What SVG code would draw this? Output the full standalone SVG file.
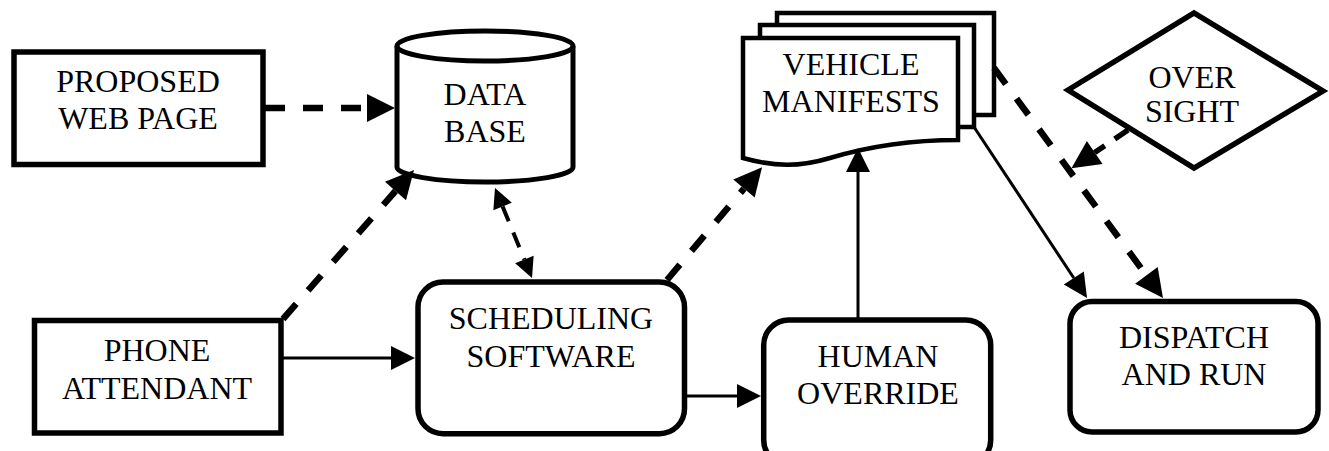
<svg xmlns="http://www.w3.org/2000/svg" width="1329" height="451" viewBox="0 0 1329 451">
<style>
.node{fill:#fff;stroke:#000;stroke-width:5.5}
.doc{fill:#fff;stroke:#000;stroke-width:4.5}
.t{font-family:'Liberation Serif','Times New Roman',Tinos,'DejaVu Serif',serif;font-size:32px;fill:#000;text-anchor:middle}
.dash{fill:none;stroke:#000;stroke-width:6.5;stroke-dasharray:20 18}
.dash2{fill:none;stroke:#000;stroke-width:4;stroke-dasharray:16 12}
.solid{fill:none;stroke:#000;stroke-width:3}
</style>
<defs>
<marker id="big" markerUnits="userSpaceOnUse" markerWidth="30" markerHeight="30" refX="0" refY="14" orient="auto" viewBox="0 0 30 30" overflow="visible"><path d="M0,0 L28,14 L0,28 Z" fill="#000"/></marker>
<marker id="mid" markerUnits="userSpaceOnUse" markerWidth="26" markerHeight="26" refX="0" refY="12" orient="auto" viewBox="0 0 26 26" overflow="visible"><path d="M0,0 L24,12 L0,24 Z" fill="#000"/></marker>
<marker id="small" markerUnits="userSpaceOnUse" markerWidth="22" markerHeight="22" refX="0" refY="10" orient="auto-start-reverse" viewBox="0 0 22 22" overflow="visible"><path d="M0,0 L20,10 L0,20 Z" fill="#000"/></marker>
</defs>

<g id="web">
<rect class="node" x="14" y="52" width="249" height="112.5"/>
<text class="t" font-family="Liberation Serif, serif" x="138" y="92">PROPOSED</text>
<text class="t" font-family="Liberation Serif, serif" x="138" y="129">WEB PAGE</text>
</g>

<g id="database">
<path class="node" style="stroke-width:5" d="M397,46 V167 A88,15 0 0 0 573,167 V46 A88,15 0 0 0 397,46 Z"/>
<path fill="none" stroke="#000" stroke-width="5" d="M397,46 A88,15 0 0 0 573,46"/>
<text class="t" x="485" y="105">DATA</text>
<text class="t" x="485" y="142">BASE</text>
</g>

<g id="manifests">
<rect class="doc" x="777" y="13" width="217" height="102"/>
<rect class="doc" x="760" y="25" width="214" height="102"/>
<path class="doc" d="M743,38 H958 V140 C910,140 870,146 830,158 C800,167 775,167 743,158 Z"/>
<text class="t" x="851" y="75">VEHICLE</text>
<text class="t" x="851" y="112">MANIFESTS</text>
</g>

<g id="oversight">
<polygon class="node" points="1068,90 1194,13 1323,91 1194,168"/>
<text class="t" x="1192" y="88">OVER</text>
<text class="t" x="1192" y="122">SIGHT</text>
</g>

<g id="phone">
<rect class="node" x="34.5" y="320.5" width="246.5" height="112.5"/>
<text class="t" x="157" y="361">PHONE</text>
<text class="t" x="157" y="399">ATTENDANT</text>
</g>

<g id="scheduling">
<rect class="node" x="418" y="282" width="266.5" height="151.7" rx="25" ry="25"/>
<text class="t" x="551" y="329">SCHEDULING</text>
<text class="t" x="551" y="367">SOFTWARE</text>
</g>

<g id="human">
<rect class="node" x="763.7" y="320" width="227" height="145" rx="25" ry="25"/>
<text class="t" x="878" y="367">HUMAN</text>
<text class="t" x="878" y="404">OVERRIDE</text>
</g>

<g id="dispatch">
<rect class="node" x="1070" y="301.5" width="248" height="130.5" rx="22" ry="22"/>
<text class="t" x="1194" y="348">DISPATCH</text>
<text class="t" x="1194" y="385">AND RUN</text>
</g>

<g id="connectors">
<line class="dash" x1="265" y1="108" x2="367" y2="108" marker-end="url(#big)"/>
<line class="dash" x1="283" y1="319" x2="395.5" y2="191" marker-end="url(#big)"/>
<line class="dash2" x1="502.6" y1="206.5" x2="524.4" y2="259.5" marker-start="url(#small)" marker-end="url(#small)"/>
<line class="dash" x1="667" y1="280" x2="744" y2="188.6" marker-end="url(#big)"/>
<line class="solid" x1="283" y1="358" x2="391" y2="358" marker-end="url(#mid)"/>
<line class="solid" x1="687" y1="396" x2="737" y2="396" marker-end="url(#mid)"/>
<line class="solid" x1="858" y1="318" x2="858" y2="172" marker-end="url(#mid)"/>
<line class="solid" x1="974" y1="127" x2="1073.8" y2="278" marker-end="url(#mid)"/>
<line class="dash" x1="994" y1="68" x2="1146.4" y2="275.4" marker-end="url(#big)"/>
<line class="dash" style="stroke-width:5.5;stroke-dasharray:16 12" x1="1128" y1="130" x2="1094.7" y2="152.5" marker-end="url(#big)"/>
</g>
</svg>
